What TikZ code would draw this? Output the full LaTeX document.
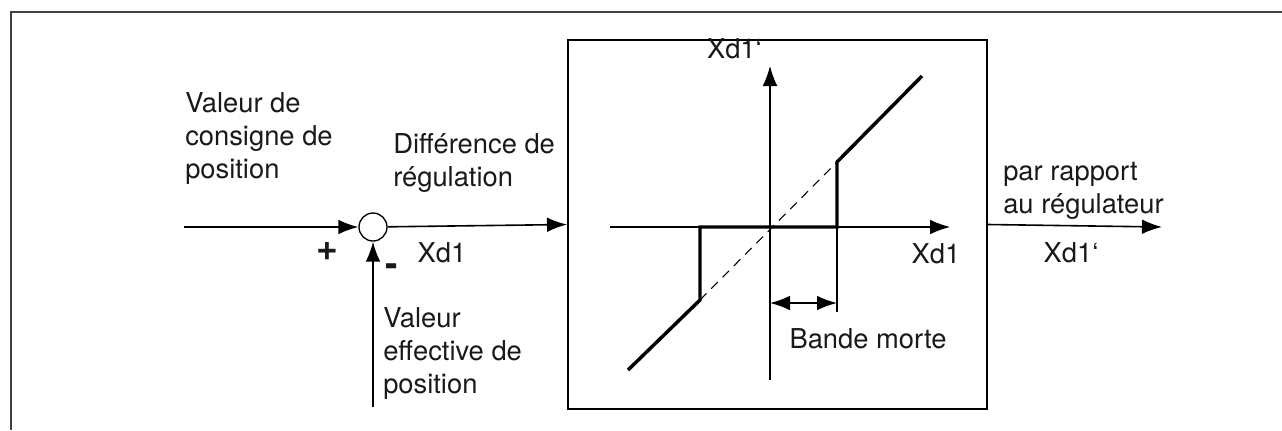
\documentclass[tikz,border=0pt]{standalone}
\usepackage{fontspec}
\setmainfont{TeX Gyre Heros}
\usetikzlibrary{arrows.meta}
\tikzset{
  bigtip/.tip={Latex[length=15pt,width=11pt]},
  flow/.style={line width=1.2pt,-{bigtip}},
  lbl/.style={align=left,inner sep=0pt,text=black!90,font=\fontsize{20.5}{24.75}\selectfont},
}
\begin{document}
\begin{tikzpicture}[x=0.75pt,y=-0.75pt]
\useasboundingbox (0,0) rectangle (1282,430);
% frame
\draw[line width=1.5pt,black!75] (11,430)--(11,12)--(1282,12);
% summing point and block
\node[draw,circle,line width=1pt,minimum size=21pt,inner sep=0pt] (sum) at (373,227) {};
\node[draw,line width=1.5pt,minimum width=314.25pt,minimum height=276.75pt,inner sep=0pt] (ctrl) at (777.5,224.5) {};
\coordinate (in) at (184,227);
\coordinate (fb) at (373,407);
\coordinate (out) at (1162,227);
\draw[flow] (in)--(sum);
\draw[flow] (fb)--(sum);
\draw[flow] (sum)--(ctrl.west);
\draw[flow] (ctrl.east)--(out);
% labels outside
\node[lbl,anchor=west] (setp) at (185,139) {Valeur de\\consigne de\\position};
\node[lbl,anchor=west] (diff) at (393,163) {Différence de\\régulation};
\node[lbl] (xin) at (442,253) {Xd1};
\node[lbl,font=\fontsize{28}{30}\bfseries] (plus) at (327,251) {+};
\node[lbl,font=\fontsize{28}{30}\bfseries] (minus) at (392,270) {-};
\node[lbl,anchor=west] (act) at (383,354) {Valeur\\effective de\\position};
\node[lbl,anchor=west] (rel) at (1003,191) {par rapport\\au régulateur};
\node[lbl] (xout) at (1071,253) {Xd1‘};
% characteristic
\coordinate (o) at (770,227);
\draw[line width=0.8pt,-{bigtip}] (610,227)--(950,227);
\draw[line width=0.8pt,-{bigtip}] (770,380)--(770,66);
\node[lbl,anchor=east] (yax) at (762,49) {Xd1‘};
\node[lbl] (xax) at (936,254) {Xd1};
\draw[line width=0.8pt,dash pattern=on 7pt off 5pt] (700,300)--(837,162);
\draw[line width=2.6pt] (628,370)--(700,300)--(700,227)--(837,227)--(837,162)--(922,76);
\draw[line width=0.8pt] (837,227)--(837,312);
\draw[line width=1.2pt,{bigtip}-{bigtip}] (770,303)--(837,303);
\node[lbl] (band) at (868,339) {Bande morte};
\end{tikzpicture}
\end{document}
